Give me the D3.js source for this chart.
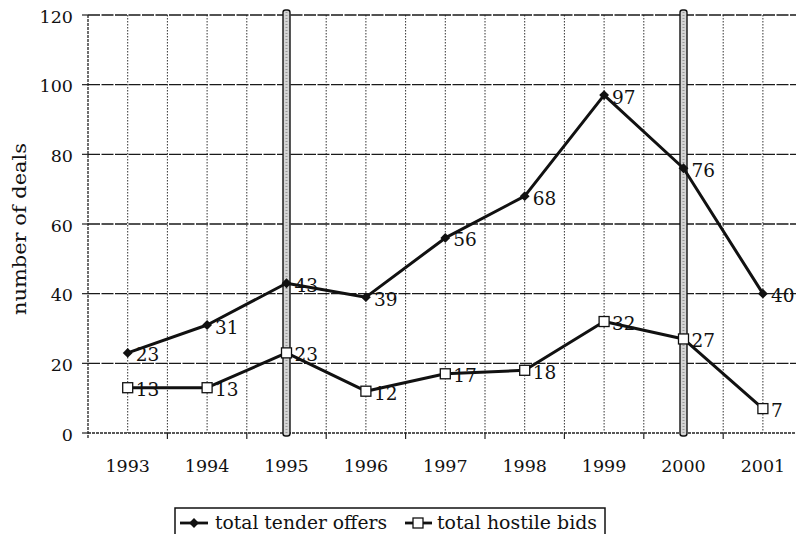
<!DOCTYPE html>
<html><head><meta charset="utf-8">
<script src="https://cdn.jsdelivr.net/npm/d3@7"></script>
<style>body{margin:0;background:#fff}svg{display:block}text{font-family:"DejaVu Serif",serif;fill:#111}</style>
</head><body>
<svg id="c" width="796" height="534"></svg>
<script>
const years = ["1993","1994","1995","1996","1997","1998","1999","2000","2001"];
const tenderOffers = [23,31,43,39,56,68,97,76,40];
const hostileBids = [13,13,23,12,17,18,32,27,7];
const yTicks = [0,20,40,60,80,100,120];
const highlightYears = ["1995","2000"];
const seriesNames = ["total tender offers","total hostile bids"];

(function(){
const svg = d3.select("#c");
const pL = 88, pR = 802.6, pT = 15, pB = 433;
const x = d3.scaleBand().domain(years).range([pL, pR]);
const y = d3.scaleLinear().domain([0,120]).range([pB, pT]);
const cx = d => x(d) + x.bandwidth()/2;

const g = svg.append("g");
years.forEach((yr,i) => {
  [x(yr), cx(yr)].forEach((xx,j) => {
    if (j===0 && i===0) return;
    g.append("line").attr("x1",xx).attr("x2",xx).attr("y1",pT).attr("y2",pB)
      .attr("stroke","#333").attr("stroke-width",1).attr("stroke-dasharray","1.5,1.5");
  });
});
yTicks.forEach(t => {
  if (t===0) return;
  g.append("line").attr("x1",pL).attr("x2",796).attr("y1",y(t)).attr("y2",y(t))
    .attr("stroke","#1a1a1a").attr("stroke-width",1.4).attr("stroke-dasharray","12,1.5");
});
g.append("line").attr("x1",pL).attr("x2",pL).attr("y1",pT).attr("y2",pB+6)
  .attr("stroke","#222").attr("stroke-width",1.3).attr("stroke-dasharray","3,1");
g.append("line").attr("x1",pL).attr("x2",796).attr("y1",pB).attr("y2",pB)
  .attr("stroke","#222").attr("stroke-width",1.3).attr("stroke-dasharray","3,1");
yTicks.forEach(t => {
  g.append("line").attr("x1",pL-6).attr("x2",pL).attr("y1",y(t)).attr("y2",y(t)).attr("stroke","#222").attr("stroke-width",1.2);
  g.append("text").attr("x",pL-15).attr("y",y(t)+7.5).attr("text-anchor","end")
    .attr("font-size",17.5).text(t);
});
years.forEach(yr => {
  g.append("line").attr("x1",x(yr)+x.bandwidth()).attr("x2",x(yr)+x.bandwidth()).attr("y1",pB).attr("y2",pB+6).attr("stroke","#222").attr("stroke-width",1.2);
  g.append("text").attr("x",cx(yr)).attr("y",472).attr("text-anchor","middle").attr("font-size",17.5).text(yr);
});
svg.append("text").attr("transform",`translate(26,229) rotate(-90)`)
  .attr("text-anchor","middle").attr("font-size",18).attr("textLength",172).attr("lengthAdjust","spacingAndGlyphs").text("number of deals");

highlightYears.forEach(yr => {
  g.append("rect").attr("x",cx(yr)-3.5).attr("width",7).attr("y",pT-5).attr("height",pB-pT+8)
    .attr("rx",2.5).attr("fill","#d4d4d4").attr("stroke","#111").attr("stroke-width",1.4);
  g.append("line").attr("x1",cx(yr)).attr("x2",cx(yr)).attr("y1",pT-3).attr("y2",pB+1)
    .attr("stroke","#999").attr("stroke-width",2).attr("stroke-dasharray","1,2");
});

const line = d3.line().x((d,i)=>cx(years[i])).y(d=>y(d));
function drawSeries(vals, marker) {
  g.append("path").datum(vals).attr("d",line).attr("fill","none").attr("stroke","#111").attr("stroke-width",3).attr("stroke-linejoin","round");
  vals.forEach((v,i) => {
    const px = cx(years[i]), py = y(v);
    if (marker==="diamond") {
      g.append("path").attr("d",d3.symbol(d3.symbolDiamond2,62)()).attr("transform",`translate(${px},${py})`).attr("fill","#111");
    } else {
      g.append("rect").attr("x",px-5).attr("y",py-5).attr("width",10).attr("height",10).attr("fill","#fff").attr("stroke","#111").attr("stroke-width",1.3);
    }
    g.append("text").attr("x",px+8).attr("y",py+8.5).attr("font-size",18.5).text(v);
  });
}
drawSeries(tenderOffers,"diamond");
drawSeries(hostileBids,"square");

const lg = svg.append("g");
lg.append("rect").attr("x",175).attr("y",508).attr("width",430).attr("height",34).attr("fill","#fff").attr("stroke","#111").attr("stroke-width",1.5);
lg.append("line").attr("x1",180).attr("x2",208).attr("y1",523).attr("y2",523).attr("stroke","#111").attr("stroke-width",2.8);
lg.append("path").attr("d",d3.symbol(d3.symbolDiamond2,62)()).attr("transform","translate(194,523)").attr("fill","#111");
lg.append("text").attr("x",215).attr("y",529).attr("font-size",18).attr("textLength",172).attr("lengthAdjust","spacingAndGlyphs").text(seriesNames[0]);
lg.append("line").attr("x1",405).attr("x2",432).attr("y1",523).attr("y2",523).attr("stroke","#111").attr("stroke-width",2.8);
lg.append("rect").attr("x",413).attr("y",518).attr("width",10).attr("height",10).attr("fill","#fff").attr("stroke","#111").attr("stroke-width",1.3);
lg.append("text").attr("x",437).attr("y",529).attr("font-size",18).attr("textLength",160).attr("lengthAdjust","spacingAndGlyphs").text(seriesNames[1]);
})();
</script>
</body></html>
